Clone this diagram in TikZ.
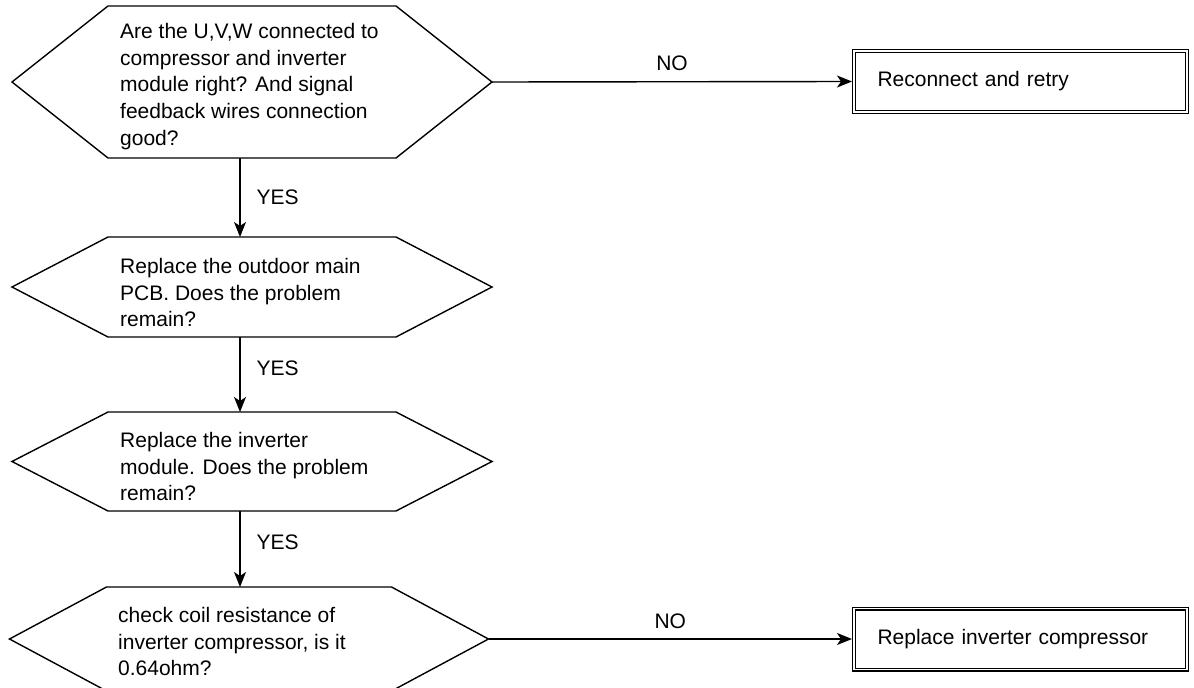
\documentclass[tikz,border=0pt]{standalone}
\usepackage{fontspec}
\setmainfont{Liberation Sans}
\usetikzlibrary{arrows.meta}

% hexagonal decision outline drawn from the corners of its frame node
\newcommand{\hexoutline}[2]{%
  \draw[hexline] (#1.west) -- ([xshift=#2]#1.north west) -- ([xshift=-#2]#1.north east)
    -- (#1.east) -- ([xshift=-#2]#1.south east) -- ([xshift=#2]#1.south west) -- cycle;}

\begin{document}
\begin{tikzpicture}[x=1pt,y=-1pt,
  font=\fontsize{21}{26.7}\selectfont,
  hexframe/.style={inner sep=0pt, outer sep=0pt},
  hexline/.style={line width=1.4pt, line join=miter},
  qtext/.style={anchor=north west, align=left, inner sep=0pt},
  resbox/.style={draw, double, double distance=1.8pt, line width=1.1pt,
    text width=286pt, inner xsep=23.5pt, minimum height=61pt,
    align=left, outer sep=2pt},
  conn/.style={line width=1.4pt, -{Stealth[length=15pt, width=12pt, inset=4pt]}},
  lbl/.style={inner sep=0pt}
]
\useasboundingbox (0,0) rectangle (1194,688);

\coordinate (spine) at (240,0);

% decision frames
\node[hexframe, minimum width=480pt, minimum height=152pt] (h1) at (252,82) {};
\node[hexframe, minimum width=480pt, minimum height=100pt] (h2) at (252,287) {};
\node[hexframe, minimum width=480pt, minimum height=99pt] (h3) at (252,461.5) {};
\node[hexframe, minimum width=479pt, minimum height=104pt] (h4) at (249,639) {};

\hexoutline{h1}{96pt}
\hexoutline{h2}{96pt}
\hexoutline{h3}{96pt}
\hexoutline{h4}{97pt}

% decision texts
\node[qtext] (t1) at (120,23) {Are the U,V,W connected to\\compressor and inverter\\module right? And signal\\feedback wires connection\\good?};
\node[qtext] (t2) at (120,258) {Replace the outdoor main\\PCB. Does the problem\\remain?};
\node[qtext] (t3) at (120,432) {Replace the inverter\\module. Does the problem\\remain?};
\node[qtext] (t4) at (118,607) {check coil resistance of\\inverter compressor, is it\\0.64ohm?};

% action boxes
\node[resbox] (r1) at (1020.5,81.5) {Reconnect and retry};
\node[resbox] (r2) at (1020.5,639) {Replace inverter compressor};

% connectors
\draw[conn] (h1.east) -- node[lbl, above=10pt] (no1) {NO} (r1.west);
\draw[conn] (h4.east) -- node[lbl, above=10pt] (no2) {NO} (r2.west);
\draw[conn] (h1.south -| spine) -- node[lbl, right=16pt, pos=0.5] (yes1) {YES} (h2.north -| spine);
\draw[conn] (h2.south -| spine) -- node[lbl, right=16pt, pos=0.42] (yes2) {YES} (h3.north -| spine);
\draw[conn] (h3.south -| spine) -- node[lbl, right=16pt, pos=0.41] (yes3) {YES} (h4.north -| spine);
\end{tikzpicture}
\end{document}
